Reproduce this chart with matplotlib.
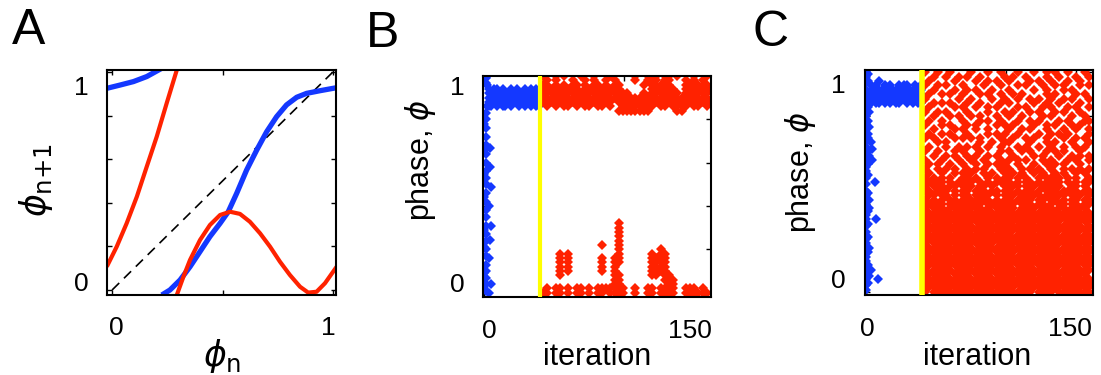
import matplotlib.pyplot as plt
import numpy as np

plt.rcParams['font.family'] = ['Liberation Sans', 'DejaVu Sans']
plt.rcParams['mathtext.fontset'] = 'dejavusans'

BLUE = '#1438ff'
RED = '#ff2200'
YELLOW = '#ffff00'

# ---------------- panel A: return maps phi_n -> phi_n+1
a_blue1_x = [-0.024, 0.036, 0.097, 0.157, 0.225]
a_blue1_y = [0.925, 0.94, 0.956, 0.979, 1.017]
a_blue2_x = [0.225, 0.262, 0.308, 0.353, 0.398, 0.443, 0.489, 0.526, 0.564, 0.609,
             0.655, 0.70, 0.745, 0.79, 0.836, 0.881, 0.941, 1.017]
a_blue2_y = [-0.023, 0.0, 0.046, 0.107, 0.176, 0.245, 0.306, 0.359, 0.443, 0.55,
             0.642, 0.726, 0.795, 0.849, 0.884, 0.902, 0.914, 0.928]
a_red1_x = [-0.024, 0.021, 0.066, 0.112, 0.157, 0.202, 0.247, 0.293]
a_red1_y = [0.107, 0.199, 0.306, 0.428, 0.566, 0.703, 0.856, 1.009]
a_red2_x = [0.293, 0.323, 0.353, 0.398, 0.443, 0.489, 0.534, 0.579, 0.624, 0.67,
            0.715, 0.76, 0.805, 0.851, 0.888, 0.926, 0.964, 1.017]
a_red2_y = [-0.023, 0.061, 0.138, 0.229, 0.298, 0.344, 0.359, 0.349, 0.313, 0.26,
            0.199, 0.13, 0.069, 0.015, -0.012, -0.008, 0.031, 0.107]

# ---------------- panel B: phase vs iteration (two regimes split at iteration 40)
switch_iter = 40
b_blue_col0 = [0.02, 0.09, 0.21, 0.29, 0.44, 0.55, 0.66, 0.78]
b_blue_col1 = [0.01, 0.04, 0.07, 0.10, 0.13, 0.17, 0.20, 0.24, 0.27, 0.31, 0.35, 0.38,
               0.42, 0.46, 0.50, 0.53, 0.56, 0.60, 0.64, 0.68, 0.72, 0.76, 0.80, 0.83,
               0.97, 0.99]
b_blue_out_x = [2, 4, 4, 5, 3, 5, 4, 3, 5, 3, 2, 2]
b_blue_out_y = [1.0, 0.67, 0.58, 0.49, 0.40, 0.31, 0.245, 0.16, 0.04, 0.0, 0.96, 0.86]
# band after the transient: iterations 3,5,...,39 ; rows phase 0.94 .. 0.86
b_blue_band = ["#.##.#..#.#..#.#.#.",
               "###################",
               "###################",
               "###################",
               "##.#.##.#..#.#.#.##"]
# red, upper band: iterations 42,45,...,159 ; rows phase 1.00 .. 0.84
b_red_top = ["#..#.#...# ..#...#... ..#..#.#.# #.#...#..#",
             ".#.#...#.. #.#..#.#.. ..#..###.# #...#.#.#.",
             "##.#.#.##. #.##.#.##. ....#.#### #...##.###",
             "#########. #######.#. ......#### ##..######",
             "########## ########## #...#.#### ###.######",
             "########## ########## ########## ##########",
             "########## #######.## ########## ##########",
             ".#.#.##.#. ##.##.#..# #######.## .####.##.#",
             ".......... ........## ######.... ..##......"]
# red, low phases: (phase, column indices into iterations 42,45,...)
b_red_low = [(0.32, [18]), (0.30, [18]), (0.28, [18]), (0.26, [18]), (0.24, [18]),
             (0.22, [14, 18]), (0.20, [18, 28]),
             (0.18, [4, 6, 18, 26, 28, 29]),
             (0.16, [4, 6, 14, 17, 18, 26, 27, 28, 29]),
             (0.14, [4, 6, 14, 17, 18, 26, 27, 28, 29]),
             (0.12, [4, 6, 14, 17, 26, 27, 28, 29]),
             (0.10, [4, 6, 14, 17, 26, 27, 28, 29]),
             (0.08, [4, 17, 18, 26, 27, 29, 30]),
             (0.06, [17, 18, 29, 30, 31]),
             (0.04, [17, 18, 30, 31]),
             (0.02, [1, 3, 4, 6, 8, 9, 11, 13, 14, 15, 16, 17, 18, 19, 22, 25, 26,
                     28, 29, 30, 31, 34, 35, 36, 38]),
             (0.00, [0, 1, 3, 4, 6, 8, 9, 11, 13, 14, 16, 17, 18, 19, 22, 25, 26,
                     28, 29, 30, 31, 34, 35, 36, 37, 38, 39])]

# ---------------- panel C
c_blue_col0 = [0.01, 0.03, 0.06, 0.08, 0.11, 0.14, 0.16, 0.19, 0.22, 0.24, 0.27, 0.30,
               0.33, 0.35, 0.38, 0.41, 0.44, 0.46, 0.49, 0.52, 0.55, 0.57, 0.60, 0.63,
               0.66, 0.68, 0.71, 0.74, 0.77, 0.80, 0.83, 0.86, 0.89, 0.92, 0.95, 0.98, 1.0]
c_blue_col1 = [0.04, 0.12, 0.18, 0.25, 0.31, 0.37, 0.45, 0.53, 0.58, 0.64, 0.72, 0.78,
               0.84, 0.90, 0.96, 0.99]
c_blue_out_x = [2, 2, 2, 2, 2, 2, 9, 1, 3, 4, 4, 6, 7, 3, 8, 2]
c_blue_out_y = [0.07, 0.20, 0.42, 0.62, 0.75, 0.82, 0.96, 0.70, 0.68, 0.65, 0.60,
                0.50, 0.33, 0.10, 0.06, 0.38]
c_blue_band = ["#.#..#.#..#.##..#.#",
               "###################",
               "###################",
               "###################",
               "#.##.#.#.##..#.#.##"]
# red cloud: iterations 42,45,...,159 ; rows phase 1.00 .. 0.00
c_red = ["#..#..#... .#...#..#. ..#...#..# .#..#...#.",
         "..#..#..#. #..#.....# .#..#....# ..#...#..#",
         ".#.....#.. ..#..#.#.. #....#.#.. #...#..#..",
         "#..#.#...# ....#...#. ..#.#...#. .#.#...#.#",
         "..#....#.. #.#...#... #.....#..# ...#.#....",
         ".#..#.#..# ...#.#..#. .#.#.....# .#....#.#.",
         "#.......#. .#....#..# ..#..#.#.. #..#.#...#",
         "..#.#.#... #..#....#. #.....#..# ..#....#..",
         ".#.....#.# ..#..#.#.. ..#.#...#. #...#.#..#",
         "#..#.#.... #....#...# .#...#.#.. .#.#...#..",
         "..#...#.#. .#.#...#.. #..#....#. #....#..#.",
         ".#..#....# ...#.#..#. ..#..#.#.. ..#.#...##",
         "#...#.#... #.#....#.# .#....#..# .#...#.#..",
         "..#....#.# ..#..#.... #..#.#...# ...#..#..#",
         ".#..#.#... #....#.#.# ..#....#.. #.#.#....#",
         "#.#....#.# .#.#....#. .#..#.#..# ...#..#.#.",
         "...#.#.... ...#..#..# #....#...# .#...#...#",
         ".#...#..#. #.#..#..#. ..#.#..#.. #..#..#.#.",
         "#..#...#.# ...#....#. #..#.#...# .#.#...#..",
         "..#..#.#.. #.#..#.#.. .#....#.#. ..#..#.#.#",
         "#...#...#. .#..#...#. #.#.#...#. #...#.#..#",
         ".#.#..#..# ..#..#.#.# ..#...#..# .#.#...#..",
         "#..#.#.#.. #.#.#...#. #..#.#.#.. #..#.#.#.#",
         ".#..#..#.# .#..#.#..# .#.#..#.#. .#.#..#.#.",
         "#.#.#.#..# #.#..#.#.# #.#.#..#.# #.#.#.#..#",
         ".#.##.#.#. ##.#.#.##. #.#.##.#.# .##.#.#.##",
         "#.#.#.##.# .#.##.#..# .##.#.#.## #.#..##.#.",
         "##.#.#.#.# #.#.#.##.# #.#.##.#.# .#.##.#.##",
         ".##.##.#.# #.##.#.#.# .#.##.##.# #.##.#.#.#",
         "#.#.#.##.# .##.##.#.# #.##.#.##. ##.#.##.##",
         "##.##.#.## ##.#.##.## .#.###.##. #.##.##.##",
         "#.###.##.# .###.#.### ##.##.#.## #.##.####.",
         "########## ########## ########## ##########",
         "########## ####.##### #########. ##########",
         "#####.#### ########.# ########## ###.######",
         "########## ##.####### ####.##### ########.#",
         "###.###### #####.##.# ########## ####.#####",
         "#####.##.# ########## #.######## ##.####.##",
         "########## ###.###### ######.### ##########",
         "#.######## #######.## ###.###### #####.####",
         "#####.#### ##.####### ########.# ##.#######",
         "########## ######.### ##.####### ######.###",
         "###.###### #########. #####.#### ####.#####",
         "########.# ##.####### ########## #.########",
         "########## #####.#### #.####.### #######.##",
         "#.#####.## ########## #####.#### ##.#######",
         "######.### #.####.### ########## #####.###.",
         "########## ########## ###.###### ##########",
         "####.##### ##.######. ########.# ####.#####",
         "########## ########.# ##.####### ##########",
         "#.######## ########## ######.### #.########"]


def grid_points(rows, x0, dx, y_top, dy):
    xs, ys = [], []
    for i, row in enumerate(rows):
        for j, ch in enumerate(row.replace(' ', '')):
            if ch == '#':
                xs.append(x0 + j * dx)
                ys.append(y_top - i * dy)
    return xs, ys


def style_axes(ax, xticks, yticks, xlab_pos, ylab_pos, xpad, ypad, xlab_txt, ylab_txt):
    for s in ax.spines.values():
        s.set_linewidth(1.5)
    ax.set_xticks(xticks)
    ax.set_yticks(yticks)
    ax.tick_params(which='major', direction='in', length=3.5, width=1,
                   top=True, right=True, labelbottom=False, labelleft=False)
    ax.set_xticks(xlab_pos, xlab_txt, minor=True)
    ax.set_yticks(ylab_pos, ylab_txt, minor=True)
    ax.tick_params(which='minor', length=0, labelsize=19)
    ax.tick_params(axis='x', which='minor', pad=xpad)
    ax.tick_params(axis='y', which='minor', pad=ypad)


def dots(ax, x, y, color):
    ax.plot(x, y, 'D', color=color, ms=4.8, mew=0, ls='none')


fig = plt.figure(figsize=(11.01, 3.75), dpi=100)

# ---- A
axA = fig.add_axes([0.0972, 0.2133, 0.208, 0.6])
axA.plot([0, 1], [0, 1], color='black', lw=1.2, dashes=(6, 4))
axA.plot(a_blue1_x, a_blue1_y, color=BLUE, lw=3.8, solid_capstyle='butt')
axA.plot(a_blue2_x, a_blue2_y, color=BLUE, lw=3.8, solid_capstyle='butt')
axA.plot(a_red1_x, a_red1_y, color=RED, lw=3.0, solid_capstyle='butt')
axA.plot(a_red2_x, a_red2_y, color=RED, lw=3.0, solid_capstyle='butt')
axA.set_xlim(-0.023, 1.014)
axA.set_ylim(-0.023, 1.009)
style_axes(axA, [0, 0.5, 1], np.arange(0, 1.01, 0.2), [0.018, 0.977], [0.037, 0.94],
           15, 13.5, ['0', '1'], ['0', '1'])
axA.set_xlabel(r'$\phi_{\mathrm{n}}$', fontsize=25, va='center')
axA.xaxis.set_label_coords(0.502, -0.27)
axA.set_ylabel(r'$\phi_{\mathrm{n{+}1}}$', fontsize=25, va='center')
axA.yaxis.set_label_coords(-0.31, 0.51)

# ---- B
axB = fig.add_axes([0.4387, 0.208, 0.2071, 0.5893])
dots(axB, [0] * len(b_blue_col0), b_blue_col0, BLUE)
dots(axB, [1] * len(b_blue_col1), b_blue_col1, BLUE)
dots(axB, b_blue_out_x, b_blue_out_y, BLUE)
bx, by = grid_points(b_blue_band, 3, 2, 0.94, 0.02)
dots(axB, bx, by, BLUE)
rx, ry = grid_points(b_red_top, 42, 3, 1.0, 0.02)
dots(axB, rx, ry, RED)
lx = [42 + 3 * c for ph, cols in b_red_low for c in cols]
ly = [ph for ph, cols in b_red_low for c in cols]
dots(axB, lx, ly, RED)
axB.axvline(switch_iter, color=YELLOW, lw=3, zorder=5)
axB.set_xlim(-1, 162)
axB.set_ylim(-0.02, 1.0)
style_axes(axB, [0, 50, 100, 150], np.arange(0, 1.01, 0.2), [3.3, 147], [0.049, 0.954],
           16, 13, ['0', '150'], ['0', '1'])
axB.set_xlabel('iteration', fontsize=22, va='center')
axB.xaxis.set_label_coords(0.50, -0.27)
axB.set_ylabel(r'phase, $\phi$', fontsize=22, va='center')
axB.yaxis.set_label_coords(-0.276, 0.62)

# ---- C
axC = fig.add_axes([0.7857, 0.2133, 0.2071, 0.6])
dots(axC, [0] * len(c_blue_col0), c_blue_col0, BLUE)
dots(axC, [1] * len(c_blue_col1), c_blue_col1, BLUE)
dots(axC, c_blue_out_x, c_blue_out_y, BLUE)
cx, cy = grid_points(c_blue_band, 3, 2, 0.94, 0.02)
dots(axC, cx, cy, BLUE)
rx, ry = grid_points(c_red, 42, 3, 1.0, 0.02)
dots(axC, rx, ry, RED)
axC.axvline(switch_iter, color=YELLOW, lw=4, zorder=5)
axC.set_xlim(-1, 162)
axC.set_ylim(-0.015, 1.01)
style_axes(axC, [0, 50, 100, 150], np.arange(0, 1.01, 0.2), [0.8, 145.5], [0.058, 0.949],
           16, 14, ['0', '150'], ['0', '1'])
axC.set_xlabel('iteration', fontsize=22, va='center')
axC.xaxis.set_label_coords(0.49, -0.275)
axC.set_ylabel(r'phase, $\phi$', fontsize=22, va='center')
axC.yaxis.set_label_coords(-0.285, 0.547)

fig.text(28.5 / 1101, 1 - 31.5 / 375, 'A', fontsize=36, ha='center', va='center')
fig.text(383 / 1101, 1 - 34 / 375, 'B', fontsize=36, ha='center', va='center')
fig.text(771 / 1101, 1 - 33 / 375, 'C', fontsize=36, ha='center', va='center')

fig.savefig('out.png', dpi=100)
